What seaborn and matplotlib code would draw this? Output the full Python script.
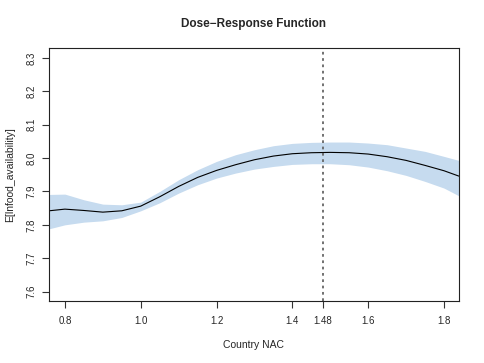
import matplotlib
matplotlib.use('Agg')
import matplotlib.pyplot as plt
import seaborn as sns
import pandas as pd
import numpy as np

# values
nac = [0.758, 0.80, 0.85, 0.90, 0.95, 1.00, 1.05, 1.10, 1.15, 1.20, 1.25, 1.30,
       1.35, 1.40, 1.45, 1.50, 1.55, 1.60, 1.65, 1.70, 1.75, 1.80, 1.839]
mean_resp = [7.842, 7.847, 7.843, 7.838, 7.842, 7.856, 7.884, 7.915, 7.942, 7.963, 7.980, 7.995,
             8.006, 8.013, 8.016, 8.017, 8.016, 8.012, 8.004, 7.993, 7.978, 7.962, 7.946]
upper_ci = [7.891, 7.892, 7.875, 7.862, 7.860, 7.868, 7.900, 7.935, 7.965, 7.990, 8.010, 8.025,
            8.037, 8.044, 8.047, 8.048, 8.048, 8.045, 8.040, 8.030, 8.020, 8.005, 7.993]
lower_ci = [7.788, 7.800, 7.808, 7.812, 7.822, 7.842, 7.866, 7.895, 7.920, 7.940, 7.955, 7.967,
            7.975, 7.981, 7.983, 7.983, 7.980, 7.973, 7.962, 7.948, 7.930, 7.910, 7.887]
opt_dose = 1.48
xticks = [0.8, 1.0, 1.2, 1.4, 1.48, 1.6, 1.8]
xtick_labels = ['0.8', '1.0', '1.2', '1.4', '1.48', '1.6', '1.8']
yticks = [7.6, 7.7, 7.8, 7.9, 8.0, 8.1, 8.2, 8.3]

sns.set_style('ticks')
plt.rcParams['font.family'] = ['Liberation Sans', 'DejaVu Sans']

df = pd.DataFrame({'nac': nac, 'mean': mean_resp, 'lo': lower_ci, 'hi': upper_ci})

fig = plt.figure(figsize=(4.85, 3.63), dpi=100)
ax = fig.add_axes([0.101, 0.171, 0.845, 0.697])

ax.fill_between(df['nac'], df['lo'], df['hi'], color='#c6dbef', linewidth=0)
sns.lineplot(data=df, x='nac', y='mean', color='black', linewidth=0.8, ax=ax)
ax.axvline(opt_dose, color='#666666', linestyle=(0, (1.5, 2)), linewidth=1.3)

ax.set_xlim(0.758, 1.839)
ax.set_ylim(7.572, 8.33)
ax.set_xticks(xticks)
ax.set_xticklabels(xtick_labels)
ax.set_yticks(yticks)
ax.set_yticklabels([f'{v:.1f}' for v in yticks], rotation=90, va='center')
ax.tick_params(axis='both', labelsize=7, length=5, width=0.8, color='#333333')
ax.tick_params(axis='x', pad=6)
ax.tick_params(axis='y', pad=4)

for s in ax.spines.values():
    s.set_visible(True)
    s.set_linewidth(0.8)
    s.set_color('#222222')

ax.set_xlabel('Country NAC', fontsize=7.5, labelpad=10)
ax.set_ylabel('E[lnfood_availability]', fontsize=7.5, labelpad=8)
ax.set_title('Dose\u2212Response Function', fontsize=8.5, fontweight='bold', pad=15)

fig.savefig('out.png', dpi=100)
